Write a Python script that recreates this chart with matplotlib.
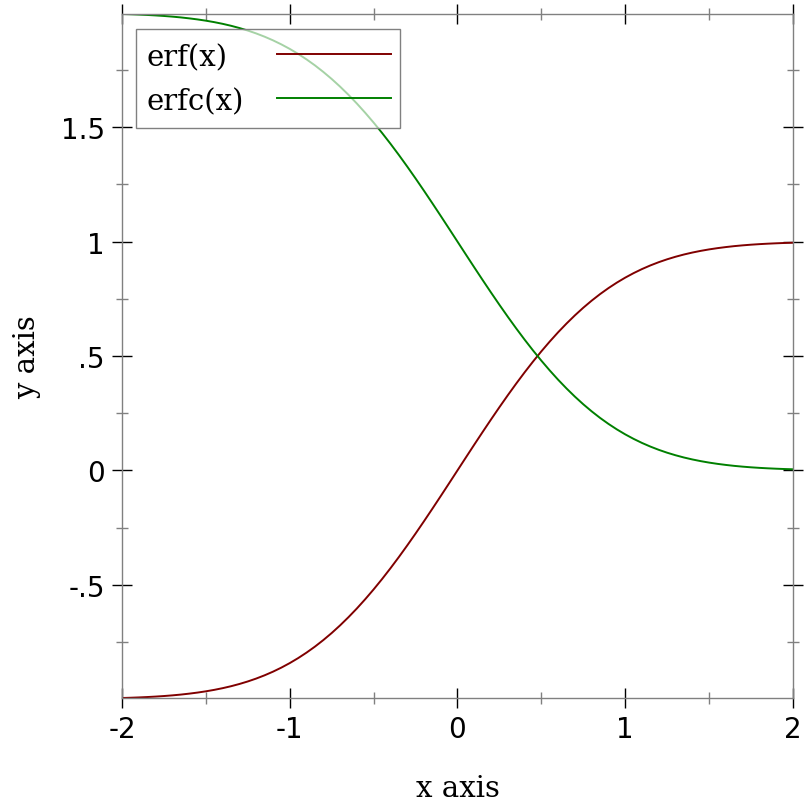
import matplotlib
matplotlib.use("Agg")
import matplotlib.pyplot as plt
from matplotlib.ticker import FixedLocator, FixedFormatter
from matplotlib.patches import Rectangle
from matplotlib.lines import Line2D

# valores (paso 0.05)
x = [-2.00, -1.95, -1.90, -1.85, -1.80, -1.75, -1.70, -1.65, -1.60, -1.55,
     -1.50, -1.45, -1.40, -1.35, -1.30, -1.25, -1.20, -1.15, -1.10, -1.05,
     -1.00, -0.95, -0.90, -0.85, -0.80, -0.75, -0.70, -0.65, -0.60, -0.55,
     -0.50, -0.45, -0.40, -0.35, -0.30, -0.25, -0.20, -0.15, -0.10, -0.05,
     0.00, 0.05, 0.10, 0.15, 0.20, 0.25, 0.30, 0.35, 0.40, 0.45,
     0.50, 0.55, 0.60, 0.65, 0.70, 0.75, 0.80, 0.85, 0.90, 0.95,
     1.00, 1.05, 1.10, 1.15, 1.20, 1.25, 1.30, 1.35, 1.40, 1.45,
     1.50, 1.55, 1.60, 1.65, 1.70, 1.75, 1.80, 1.85, 1.90, 1.95, 2.00]
erf_y = [-0.9953, -0.9942, -0.9928, -0.9911, -0.9891, -0.9867, -0.9838, -0.9804, -0.9763, -0.9716,
         -0.9661, -0.9597, -0.9523, -0.9438, -0.9340, -0.9229, -0.9103, -0.8961, -0.8802, -0.8624,
         -0.8427, -0.8209, -0.7969, -0.7707, -0.7421, -0.7112, -0.6778, -0.6420, -0.6039, -0.5633,
         -0.5205, -0.4755, -0.4284, -0.3794, -0.3286, -0.2763, -0.2227, -0.1680, -0.1125, -0.0564,
         0.0000, 0.0564, 0.1125, 0.1680, 0.2227, 0.2763, 0.3286, 0.3794, 0.4284, 0.4755,
         0.5205, 0.5633, 0.6039, 0.6420, 0.6778, 0.7112, 0.7421, 0.7707, 0.7969, 0.8209,
         0.8427, 0.8624, 0.8802, 0.8961, 0.9103, 0.9229, 0.9340, 0.9438, 0.9523, 0.9597,
         0.9661, 0.9716, 0.9763, 0.9804, 0.9838, 0.9867, 0.9891, 0.9911, 0.9928, 0.9942, 0.9953]
erfc_y = [1.9953, 1.9942, 1.9928, 1.9911, 1.9891, 1.9867, 1.9838, 1.9804, 1.9763, 1.9716,
          1.9661, 1.9597, 1.9523, 1.9438, 1.9340, 1.9229, 1.9103, 1.8961, 1.8802, 1.8624,
          1.8427, 1.8209, 1.7969, 1.7707, 1.7421, 1.7112, 1.6778, 1.6420, 1.6039, 1.5633,
          1.5205, 1.4755, 1.4284, 1.3794, 1.3286, 1.2763, 1.2227, 1.1680, 1.1125, 1.0564,
          1.0000, 0.9436, 0.8875, 0.8320, 0.7773, 0.7237, 0.6714, 0.6206, 0.5716, 0.5245,
          0.4795, 0.4367, 0.3961, 0.3580, 0.3222, 0.2888, 0.2579, 0.2293, 0.2031, 0.1791,
          0.1573, 0.1376, 0.1198, 0.1039, 0.0897, 0.0771, 0.0660, 0.0562, 0.0477, 0.0403,
          0.0339, 0.0284, 0.0237, 0.0196, 0.0162, 0.0133, 0.0109, 0.0089, 0.0072, 0.0058, 0.0047]

series_labels = ["erf(x)", "erfc(x)"]
series_colors = ["#800000", "#008000"]

xticks = [-2, -1, 0, 1, 2]
xtick_labels = ["-2", "-1", "0", "1", "2"]
xminor = [-1.5, -0.5, 0.5, 1.5]
yticks = [-0.5, 0, 0.5, 1, 1.5]
ytick_labels = ["-.5", "0", ".5", "1", "1.5"]
yminor = [-0.75, -0.25, 0.25, 0.75, 1.25, 1.75]

serif = ["DejaVu Serif"]
sans = ["DejaVu Sans"]

fig = plt.figure(figsize=(8.12, 8.12), dpi=100)
ax = fig.add_axes([122 / 812, 113 / 812, 671 / 812, 684 / 812])

ax.plot(x, erf_y, color=series_colors[0], lw=1.4)
ax.plot(x, erfc_y, color=series_colors[1], lw=1.4)

ax.set_xlim(-2, 2)
ax.set_ylim(-0.9953, 1.9953)

for s in ax.spines.values():
    s.set_color("#808080")
    s.set_linewidth(1)

ax.xaxis.set_major_locator(FixedLocator(xticks))
ax.xaxis.set_major_formatter(FixedFormatter(xtick_labels))
ax.xaxis.set_minor_locator(FixedLocator(xminor))
ax.yaxis.set_major_locator(FixedLocator(yticks))
ax.yaxis.set_major_formatter(FixedFormatter(ytick_labels))
ax.yaxis.set_minor_locator(FixedLocator(yminor))

ax.tick_params(which="both", direction="inout", top=True, right=True, labelsize=20, pad=5)
ax.tick_params(which="major", length=15, width=1, color="black")
ax.tick_params(which="minor", length=8, width=1, color="#808080")
for lab in ax.get_xticklabels() + ax.get_yticklabels():
    lab.set_family(sans)

ax.set_xlabel("x axis", fontsize=21, family=serif, labelpad=22)
ax.set_ylabel("y axis", fontsize=21, family=serif, labelpad=14)

# leyenda estilo racket: texto a la izquierda, muestra de linea a la derecha
ax.add_patch(Rectangle((0.0209, 0.8333), 0.3934, 0.1447, transform=ax.transAxes,
                       facecolor="white", alpha=0.65, edgecolor="none", zorder=5))
ax.add_patch(Rectangle((0.0209, 0.8333), 0.3934, 0.1447, transform=ax.transAxes,
                       facecolor="none", edgecolor="#808080", lw=1, zorder=6))
row_y = [0.9411, 0.8768]
for lab, col, yy in zip(series_labels, series_colors, row_y):
    ax.text(0.0358, yy - 0.005, lab, transform=ax.transAxes, fontsize=21, family=serif,
            va="center", ha="left", zorder=7)
    ax.add_line(Line2D([0.2310, 0.4009], [yy, yy], transform=ax.transAxes,
                       color=col, lw=1.4, zorder=7))

fig.savefig("out.png", dpi=100)
